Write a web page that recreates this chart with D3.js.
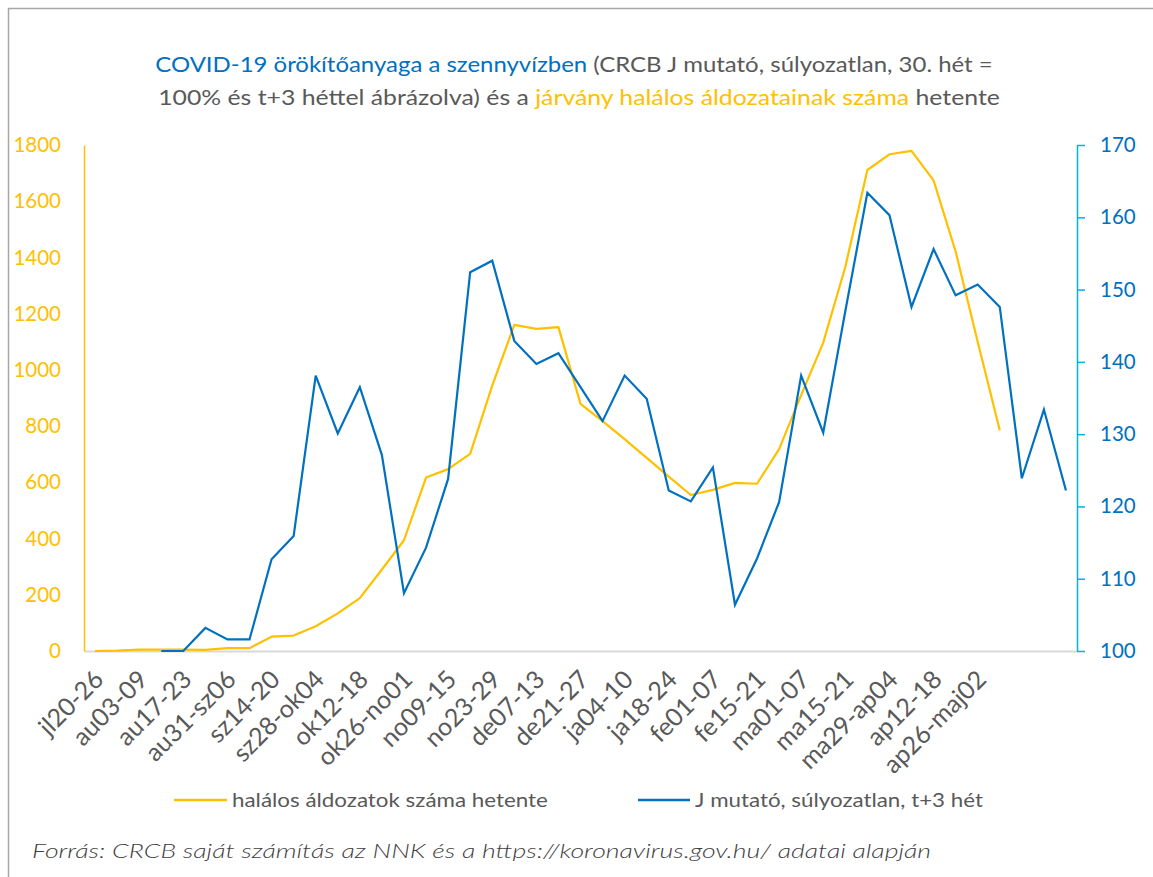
<!DOCTYPE html>
<html>
<head>
<meta charset="utf-8">
<script src="https://cdn.jsdelivr.net/npm/d3@7"></script>
<style>
  html, body { margin: 0; padding: 0; background: #fff; }
  svg { display: block; font-family: Lato, "Open Sans", sans-serif; }
</style>
</head>
<body>
<svg id="chart" width="1153" height="877"></svg>
<script>
// ---- data ----
const weekCount = 45;
const tickLabels = ["jl20-26","au03-09","au17-23","au31-sz06","sz14-20","sz28-ok04","ok12-18",
  "ok26-no01","no09-15","no23-29","de07-13","de21-27","ja04-10","ja18-24","fe01-07","fe15-21",
  "ma01-07","ma15-21","ma29-ap04","ap12-18","ap26-maj02"];
// weekly deaths (left axis), weeks 0..41
const deaths = [0,1,5,5,5,4,10,10,51,55,88,134,188,290,
  394,617,647,701,944,1160,1146,1152,879,818,754,687,620,555,573,598,595,718,
  910,1097,1366,1711,1767,1779,1674,1421,1100,785];
// J index, unweighted, t+3 weeks (right axis), weeks 0..44
const jIndex = [null,null,null,100,100,103.2,101.6,101.6,112.7,115.9,138.1,130.1,136.5,127.1,
  108.0,114.3,123.8,152.4,154.0,142.9,139.7,141.2,136.5,131.8,138.1,134.9,122.2,120.7,125.4,106.4,112.8,120.6,
  138.1,130.2,147.0,163.4,160.3,147.6,155.6,149.2,150.7,147.6,123.9,133.4,122.2];
const leftTicks = [0,200,400,600,800,1000,1200,1400,1600,1800];
const rightTicks = [100,110,120,130,140,150,160,170];
const seriesNames = ["halálos áldozatok száma hetente", "J mutató, súlyozatlan, t+3 hét"];

// ---- colours ----
const ORANGE = "#FFC000", BLUE = "#0070C0", LIGHTBLUE = "#00B0F0", GRAY = "#595959";

const svg = d3.select("#chart");

// outer border
svg.append("rect").attr("x", 8.5).attr("y", 8.5).attr("width", 1300).attr("height", 1000)
  .attr("fill", "none").attr("stroke", "#a6a6a6").attr("stroke-width", 1.5);

const plot = {left: 84, right: 1077, top: 145, bottom: 651};
const x = d3.scaleBand().domain(d3.range(weekCount)).range([plot.left, plot.right]);
const cx = i => x(i) + x.bandwidth() / 2;
const yL = d3.scaleLinear().domain([0, 1800]).range([plot.bottom, plot.top]);
const yR = d3.scaleLinear().domain([100, 170]).range([plot.bottom, plot.top]);

// helper: horizontally fit text to a target width
function fit(sel, target) {
  const w = sel.node().getComputedTextLength();
  return target / w;
}

// title
const title = svg.append("g").attr("font-size", 21.5);
const t1 = title.append("text").attr("text-anchor", "middle");
t1.append("tspan").attr("fill", BLUE).text("COVID-19 örökítőanyaga a szennyvízben");
t1.append("tspan").attr("fill", GRAY).text(" (CRCB J mutató, súlyozatlan, 30. hét =");
const t2 = title.append("text").attr("text-anchor", "middle");
t2.append("tspan").attr("fill", GRAY).text("100% és t+3 héttel ábrázolva) és a ");
t2.append("tspan").attr("fill", ORANGE).text("járvány halálos áldozatainak száma");
t2.append("tspan").attr("fill", GRAY).text(" hetente");
t1.attr("transform", `translate(574,72) scale(${fit(t1, 838)},1)`);
t2.attr("transform", `translate(579,105) scale(${fit(t2, 842)},1)`);

// x axis baseline
const xAxis = svg.append("g").attr("transform", `translate(0,${plot.bottom})`)
  .call(d3.axisBottom(x).tickValues(d3.range(0, 41, 2)).tickSize(0).tickSizeOuter(0)
    .tickFormat(i => tickLabels[i / 2]));
xAxis.select(".domain").attr("stroke", "#d9d9d9").attr("stroke-width", 2);
xAxis.selectAll(".tick text")
  .attr("fill", GRAY).attr("font-size", 25).attr("font-family", "Lato")
  .attr("text-anchor", "end").attr("dy", 0).attr("y", 0)
  .attr("transform", "translate(10,30) rotate(-45)");

// left axis
const lAxis = svg.append("g").attr("transform", `translate(${plot.left},0)`)
  .call(d3.axisLeft(yL).tickValues(leftTicks).tickFormat(d3.format("d"))
    .tickSize(0).tickSizeOuter(0).tickPadding(23));
lAxis.select(".domain").attr("stroke", ORANGE).attr("stroke-width", 1.5);
lAxis.selectAll(".tick text").attr("fill", ORANGE).attr("font-size", 20.5).attr("font-family", "Lato");

// right axis
const rAxis = svg.append("g").attr("transform", `translate(${plot.right},0)`)
  .call(d3.axisRight(yR).tickValues(rightTicks).tickFormat(d3.format("d"))
    .tickSize(8).tickSizeOuter(0).tickPadding(15));
rAxis.select(".domain").attr("stroke", LIGHTBLUE).attr("stroke-width", 1.5);
rAxis.selectAll(".tick line").attr("stroke", LIGHTBLUE).attr("stroke-width", 1.5);
rAxis.selectAll(".tick text").attr("fill", BLUE).attr("font-size", 20.5).attr("font-family", "Lato");

// lines
const lineL = d3.line().defined(d => d != null).x((d, i) => cx(i)).y(d => yL(d));
const lineR = d3.line().defined(d => d != null).x((d, i) => cx(i)).y(d => yR(d));
svg.append("path").datum(deaths).attr("d", lineL)
  .attr("fill", "none").attr("stroke", ORANGE).attr("stroke-width", 2.2).attr("stroke-linejoin", "round");
svg.append("path").datum(jIndex).attr("d", lineR)
  .attr("fill", "none").attr("stroke", BLUE).attr("stroke-width", 2.2).attr("stroke-linejoin", "miter");

// legend
const legend = svg.append("g").attr("font-size", 19.5).attr("fill", GRAY);
const legItems = [
  {name: seriesNames[0], color: ORANGE, x0: 174, x1: 227, tx: 232, w: 316},
  {name: seriesNames[1], color: BLUE, x0: 638, x1: 690, tx: 695, w: 288}
];
legItems.forEach(it => {
  legend.append("line").attr("x1", it.x0).attr("x2", it.x1).attr("y1", 800).attr("y2", 800)
    .attr("stroke", it.color).attr("stroke-width", 2.5);
  const t = legend.append("text").attr("dy", "0.35em").text(it.name);
  t.attr("transform", `translate(${it.tx},800) scale(${fit(t, it.w)},1)`);
});

// source note
const src = svg.append("text").attr("font-size", 20.5).attr("font-style", "italic")
  .attr("font-weight", 300).attr("fill", "#404040")
  .text("Forrás: CRCB saját számítás az NNK és a https://koronavirus.gov.hu/ adatai alapján");
src.attr("transform", `translate(32,858) scale(${fit(src, 900)},1)`);
</script>
</body>
</html>
